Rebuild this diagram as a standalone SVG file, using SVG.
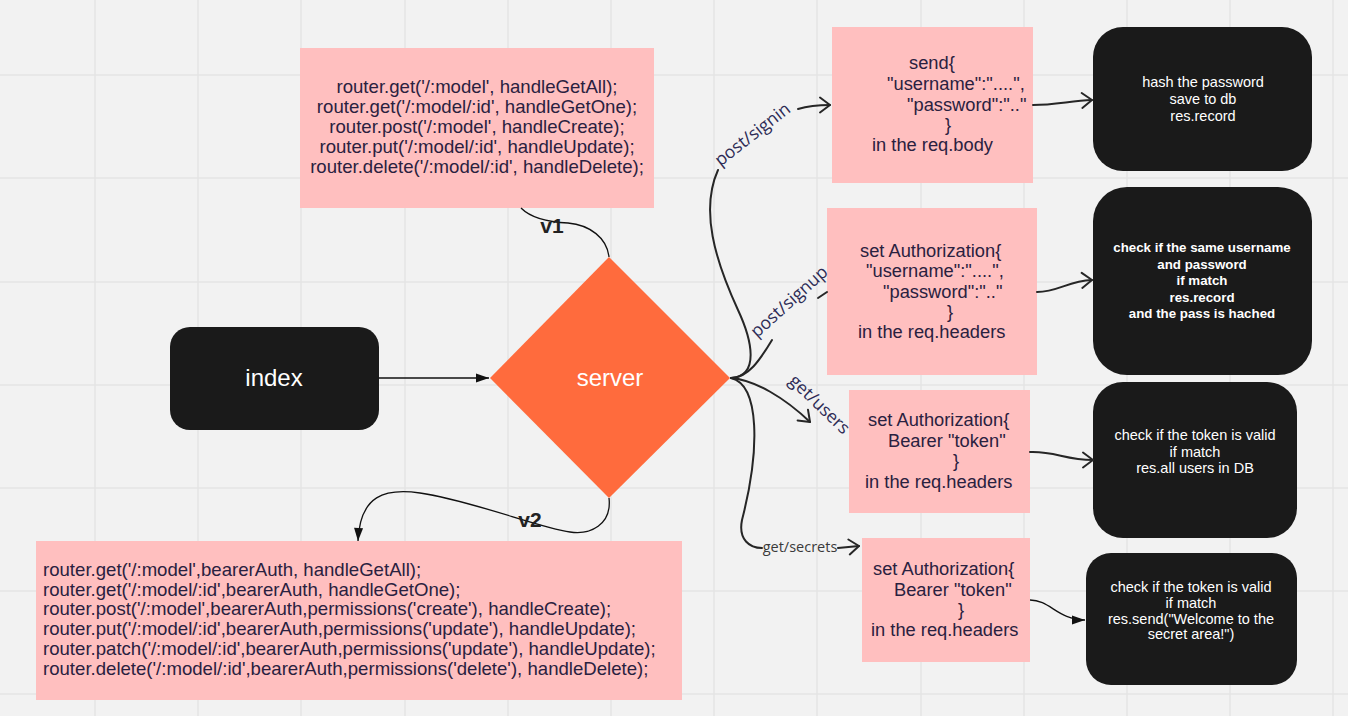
<svg xmlns="http://www.w3.org/2000/svg" width="1348" height="716" viewBox="0 0 1348 716">
<style>
.pink{fill:#ffbfbf}
.ptxt{font-family:"Liberation Sans",Arial,sans-serif;font-size:18.3px;fill:#2a2140}
.pc{text-anchor:middle}
.wide{font-size:18.6px}
.blk{fill:#1a1a1a}
.wtxt{font-family:"Liberation Sans",Arial,sans-serif;font-size:14.5px;fill:#ffffff;text-anchor:middle}
.bold{font-weight:bold;font-size:13.3px}
.big{font-family:"Liberation Sans",Arial,sans-serif;font-size:24px;fill:#ffffff;text-anchor:middle}
.lbl{font-family:"Open Sans",sans-serif;font-size:17.5px;fill:#2d2b55;text-anchor:middle}
.small{font-family:"Open Sans",sans-serif;font-size:14.5px;fill:#3a3a3a;text-anchor:middle}
.ver{font-family:"Liberation Sans",Arial,sans-serif;font-size:21px;font-weight:bold;fill:#222;text-anchor:middle}
.ch{fill:none;stroke:#262626;stroke-width:2;stroke-linecap:round}
.thin{fill:none;stroke:#111;stroke-width:1.3}
.grid line{stroke:#e4e4e4;stroke-width:1.5}
</style>
<defs>
<marker id="chev" viewBox="-12 -9 14 18" markerWidth="14" markerHeight="18" refX="0" refY="0" orient="auto" markerUnits="userSpaceOnUse"><path d="M-10,-7.5 L0,0 L-10,7.5" fill="none" stroke="#262626" stroke-width="2" stroke-linecap="round" stroke-linejoin="round"/></marker>
<marker id="tri" viewBox="-14 -5 15 10" markerWidth="15" markerHeight="10" refX="0" refY="0" orient="auto" markerUnits="userSpaceOnUse"><path d="M-13,-4.5 L0,0 L-13,4.5 Z" fill="#111"/></marker>
</defs>
<rect x="0" y="0" width="1348" height="716" fill="#f2f2f2"/>
<g class="grid">
<line x1="95" y1="0" x2="95" y2="716"/><line x1="198" y1="0" x2="198" y2="716"/><line x1="301" y1="0" x2="301" y2="716"/><line x1="405" y1="0" x2="405" y2="716"/><line x1="508" y1="0" x2="508" y2="716"/><line x1="611" y1="0" x2="611" y2="716"/><line x1="714" y1="0" x2="714" y2="716"/><line x1="817" y1="0" x2="817" y2="716"/><line x1="921" y1="0" x2="921" y2="716"/><line x1="1024" y1="0" x2="1024" y2="716"/><line x1="1127" y1="0" x2="1127" y2="716"/><line x1="1230" y1="0" x2="1230" y2="716"/><line x1="1333" y1="0" x2="1333" y2="716"/>
<line x1="0" y1="75" x2="1348" y2="75"/><line x1="0" y1="178" x2="1348" y2="178"/><line x1="0" y1="282" x2="1348" y2="282"/><line x1="0" y1="385" x2="1348" y2="385"/><line x1="0" y1="488" x2="1348" y2="488"/><line x1="0" y1="591" x2="1348" y2="591"/><line x1="0" y1="694" x2="1348" y2="694"/>
</g>
<g id="index">
<rect class="blk" x="170" y="327" width="209" height="103" rx="20"/>
<text class="big" x="274" y="386">index</text>
</g>
<g id="server">
<polygon points="609,257 730,378 609,498 490,378" fill="#ff6b3d"/>
<text class="big" x="610" y="386">server</text>
</g>
<g id="routes-v1">
<rect class="pink" x="300" y="48" width="354" height="160"/>
<text class="ptxt pc wide" x="477" y="93">router.get('/:model', handleGetAll);</text>
<text class="ptxt pc wide" x="477" y="113">router.get('/:model/:id', handleGetOne);</text>
<text class="ptxt pc wide" x="477" y="133">router.post('/:model', handleCreate);</text>
<text class="ptxt pc wide" x="477" y="153">router.put('/:model/:id', handleUpdate);</text>
<text class="ptxt pc wide" x="477" y="173">router.delete('/:model/:id', handleDelete);</text>
</g>
<g id="routes-v2">
<rect class="pink" x="36" y="541" width="646" height="159"/>
<text class="ptxt wide" x="43" y="576">router.get('/:model',bearerAuth, handleGetAll);</text>
<text class="ptxt wide" x="43" y="596">router.get('/:model/:id',bearerAuth, handleGetOne);</text>
<text class="ptxt wide" x="43" y="615">router.post('/:model',bearerAuth,permissions('create'), handleCreate);</text>
<text class="ptxt wide" x="43" y="635">router.put('/:model/:id',bearerAuth,permissions('update'), handleUpdate);</text>
<text class="ptxt wide" x="43" y="655">router.patch('/:model/:id',bearerAuth,permissions('update'), handleUpdate);</text>
<text class="ptxt wide" x="43" y="675">router.delete('/:model/:id',bearerAuth,permissions('delete'), handleDelete);</text>
</g>
<g id="signin">
<rect class="pink" x="832" y="27" width="201" height="156"/>
<text class="ptxt" x="909" y="69">send{</text>
<text class="ptxt" x="887" y="90">"username":"....",</text>
<text class="ptxt" x="907" y="110.5">"password":".."</text>
<text class="ptxt" x="945" y="131">}</text>
<text class="ptxt" x="872" y="151">in the req.body</text>
</g>
<g id="signup">
<rect class="pink" x="827" y="208" width="210" height="167"/>
<text class="ptxt" x="860" y="256.5">set Authorization{</text>
<text class="ptxt" x="866" y="277">"username":"....",</text>
<text class="ptxt" x="883" y="297.5">"password":".."</text>
<text class="ptxt" x="947" y="318">}</text>
<text class="ptxt" x="858" y="337.5">in the req.headers</text>
</g>
<g id="users">
<rect class="pink" x="849" y="390" width="181" height="123"/>
<text class="ptxt" x="868" y="426">set Authorization{</text>
<text class="ptxt" x="888" y="447">Bearer "token"</text>
<text class="ptxt" x="953" y="467">}</text>
<text class="ptxt" x="865" y="488">in the req.headers</text>
</g>
<g id="secrets">
<rect class="pink" x="862" y="538" width="168" height="124"/>
<text class="ptxt" x="873" y="575">set Authorization{</text>
<text class="ptxt" x="894" y="596">Bearer "token"</text>
<text class="ptxt" x="958" y="616">}</text>
<text class="ptxt" x="871" y="636">in the req.headers</text>
</g>
<g id="hash">
<rect class="blk" x="1093" y="27" width="219" height="144" rx="30"/>
<text class="wtxt" x="1203" y="87">hash the password</text>
<text class="wtxt" x="1203" y="104">save to db</text>
<text class="wtxt" x="1203" y="121">res.record</text>
</g>
<g id="check-user">
<rect class="blk" x="1093" y="187" width="219" height="188" rx="34"/>
<text class="wtxt bold" x="1202" y="252">check if the same username</text>
<text class="wtxt bold" x="1202" y="269">and password</text>
<text class="wtxt bold" x="1202" y="285">if match</text>
<text class="wtxt bold" x="1202" y="302">res.record</text>
<text class="wtxt bold" x="1202" y="318">and the pass is hached</text>
</g>
<g id="check-token-users">
<rect class="blk" x="1093" y="382" width="204" height="156" rx="30"/>
<text class="wtxt" x="1195" y="440">check if the token is valid</text>
<text class="wtxt" x="1195" y="457">if match</text>
<text class="wtxt" x="1195" y="473">res.all users in DB</text>
</g>
<g id="check-token-secret">
<rect class="blk" x="1086" y="553" width="211" height="132" rx="25"/>
<text class="wtxt" x="1191" y="592">check if the token is valid</text>
<text class="wtxt" x="1191" y="608">if match</text>
<text class="wtxt" x="1191" y="624">res.send("Welcome to the</text>
<text class="wtxt" x="1191" y="639">secret area!")</text>
</g>
<g id="connectors">
<path class="thin" d="M379 378 L489 378" stroke-width="1.5" marker-end="url(#tri)"/>
<path class="thin" d="M521 208 C530 217 545 222 568 223 C590 225 607 238 609 257"/>
<path class="thin" d="M609 498 C612 525 590 535 570 532 C540 528 470 500 420 493 C385 488 360 495 358 541" marker-end="url(#tri)"/>
<path class="ch" d="M731 378 C760 376 752 340 738 310 C715 260 700 210 718 170"/>
<path class="ch" d="M798 109 C808 106 818 105 830 105" marker-end="url(#chev)"/>
<path class="ch" d="M731 378 C748 378 760 360 772 340"/>
<path class="ch" d="M818 298 L827 292"/>
<path class="ch" d="M731 378 C755 380 785 398 810 422" marker-end="url(#chev)"/>
<path class="ch" d="M731 378 C760 385 760 450 742 520 C738 540 750 548 762 548"/>
<path class="ch" d="M838 548 L859 546" marker-end="url(#chev)"/>
<path class="ch" d="M1033 105 C1055 105 1070 101 1092 100" marker-end="url(#chev)"/>
<path class="ch" d="M1037 292 C1058 292 1068 281 1092 280" marker-end="url(#chev)"/>
<path class="ch" d="M1030 452 C1055 451 1065 460 1093 460" marker-end="url(#chev)"/>
<path class="thin" d="M1030 600 C1050 600 1058 620 1085 620" marker-end="url(#tri)"/>
<text class="lbl" x="756" y="139" transform="rotate(-38 756 139)">post/signin</text>
<text class="lbl" x="793" y="306" transform="rotate(-42 793 306)">post/signup</text>
<text class="lbl" x="815.5" y="408.6" transform="rotate(44 815.5 408.6)">get/users</text>
<text class="small" x="800" y="552">get/secrets</text>
<text class="ver" x="552" y="233">v1</text>
<text class="ver" x="530" y="527">v2</text>
</g>
</svg>
